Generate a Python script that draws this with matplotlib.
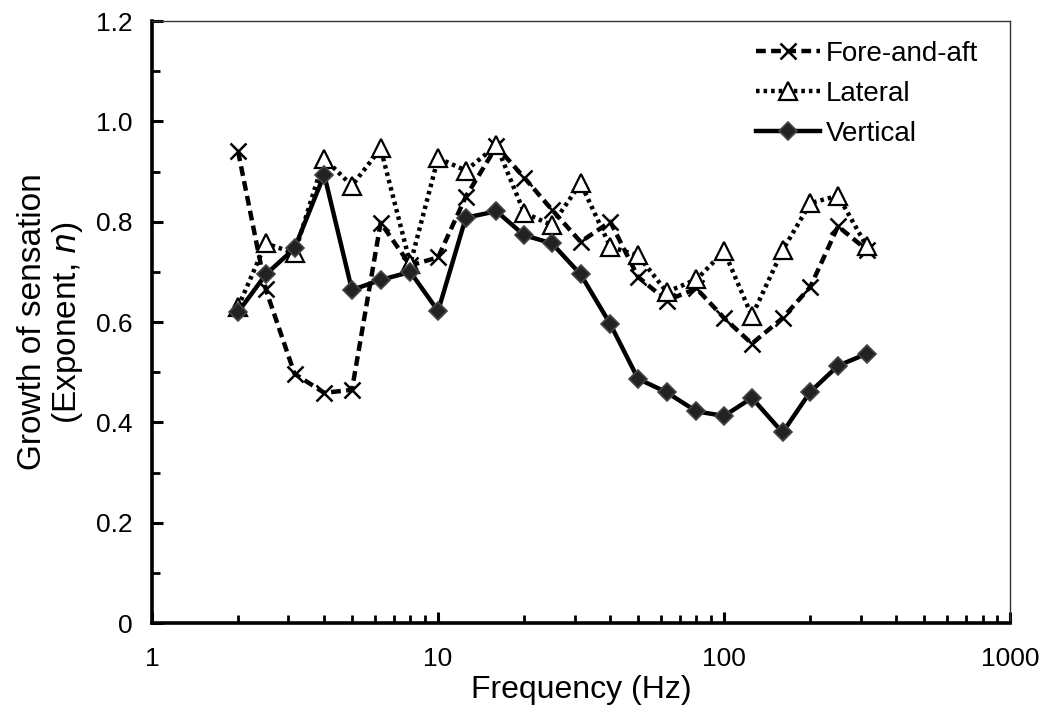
import matplotlib
matplotlib.use("Agg")
import matplotlib.pyplot as plt
from matplotlib.ticker import FixedLocator, LogLocator, MultipleLocator, FuncFormatter, NullFormatter

plt.rcParams['font.family'] = ['Liberation Sans', 'DejaVu Sans']

freq = [2, 2.5, 3.15, 4, 5, 6.3, 8, 10, 12.5, 16, 20, 25, 31.5, 40, 50, 63, 80, 100, 125, 160, 200, 250, 315]
fore_aft = [0.940, 0.665, 0.497, 0.459, 0.465, 0.798, 0.713, 0.729, 0.850, 0.950, 0.888, 0.824, 0.760, 0.800, 0.690, 0.643, 0.667, 0.608, 0.557, 0.608, 0.670, 0.791, 0.744]
lateral = [0.630, 0.757, 0.737, 0.926, 0.872, 0.946, 0.716, 0.927, 0.902, 0.952, 0.818, 0.793, 0.877, 0.750, 0.733, 0.660, 0.685, 0.741, 0.612, 0.743, 0.837, 0.852, 0.751]
vertical = [0.620, 0.695, 0.747, 0.894, 0.664, 0.684, 0.700, 0.622, 0.808, 0.821, 0.773, 0.757, 0.695, 0.596, 0.487, 0.460, 0.422, 0.413, 0.449, 0.380, 0.461, 0.513, 0.537]

fig = plt.figure(figsize=(10.48, 7.13), dpi=100)
ax = fig.add_axes([0.145, 0.126, 0.819, 0.8445])

ax.plot(freq, fore_aft, color='black', lw=3.2, linestyle=(0, (2.2, 1.2)),
        marker='x', markersize=11, markeredgewidth=1.8, label='Fore-and-aft', zorder=3)
ax.plot(freq, lateral, color='black', lw=3.2, linestyle=(0, (0.8, 0.9)),
        marker='^', markersize=13, markerfacecolor='white', markeredgecolor='black',
        markeredgewidth=1.6, label='Lateral', zorder=3)
ax.plot(freq, vertical, color='black', lw=3.2, linestyle='-',
        marker='D', markersize=9.5, markerfacecolor='#222222', markeredgecolor='#444444',
        markeredgewidth=1.2, label='Vertical', zorder=4)

ax.set_xscale('log')
ax.set_xlim(1, 1000)
ax.set_ylim(0, 1.2)
ax.xaxis.set_major_locator(FixedLocator([1, 10, 100, 1000]))
ax.xaxis.set_major_formatter(FuncFormatter(lambda v, p: f"{int(round(v))}"))
ax.xaxis.set_minor_locator(LogLocator(base=10, subs=range(2, 10)))
ax.xaxis.set_minor_formatter(NullFormatter())
ax.yaxis.set_major_locator(MultipleLocator(0.2))
ax.yaxis.set_minor_locator(MultipleLocator(0.1))
ax.yaxis.set_major_formatter(FuncFormatter(lambda v, p: "0" if abs(v) < 1e-9 else f"{v:.1f}"))

for s in ['left', 'bottom']:
    ax.spines[s].set_linewidth(2.6)
for s in ['top', 'right']:
    ax.spines[s].set_linewidth(1.0)
    ax.spines[s].set_color('#333333')

ax.tick_params(axis='both', which='major', direction='in', length=8, width=2.2,
               labelsize=19, colors='black')
ax.tick_params(axis='x', which='major', pad=17)
ax.tick_params(axis='y', which='major', pad=14)
ax.tick_params(axis='both', which='minor', direction='in', length=6, width=2.0)
ax.tick_params(axis='y', which='both', right=False)
ax.tick_params(axis='x', which='both', top=False)

ax.set_xlabel('Frequency (Hz)', fontsize=23, labelpad=3)
ax.set_ylabel('Growth of sensation\n(Exponent, $\\mathit{n}$)', fontsize=24, labelpad=8, linespacing=1.05)

leg = ax.legend(loc='upper right', frameon=False, fontsize=20, handlelength=2.3,
                handletextpad=0.2, labelspacing=0.5, borderaxespad=0.0,
                bbox_to_anchor=(0.975, 0.985))

fig.savefig('out.png', dpi=100)
